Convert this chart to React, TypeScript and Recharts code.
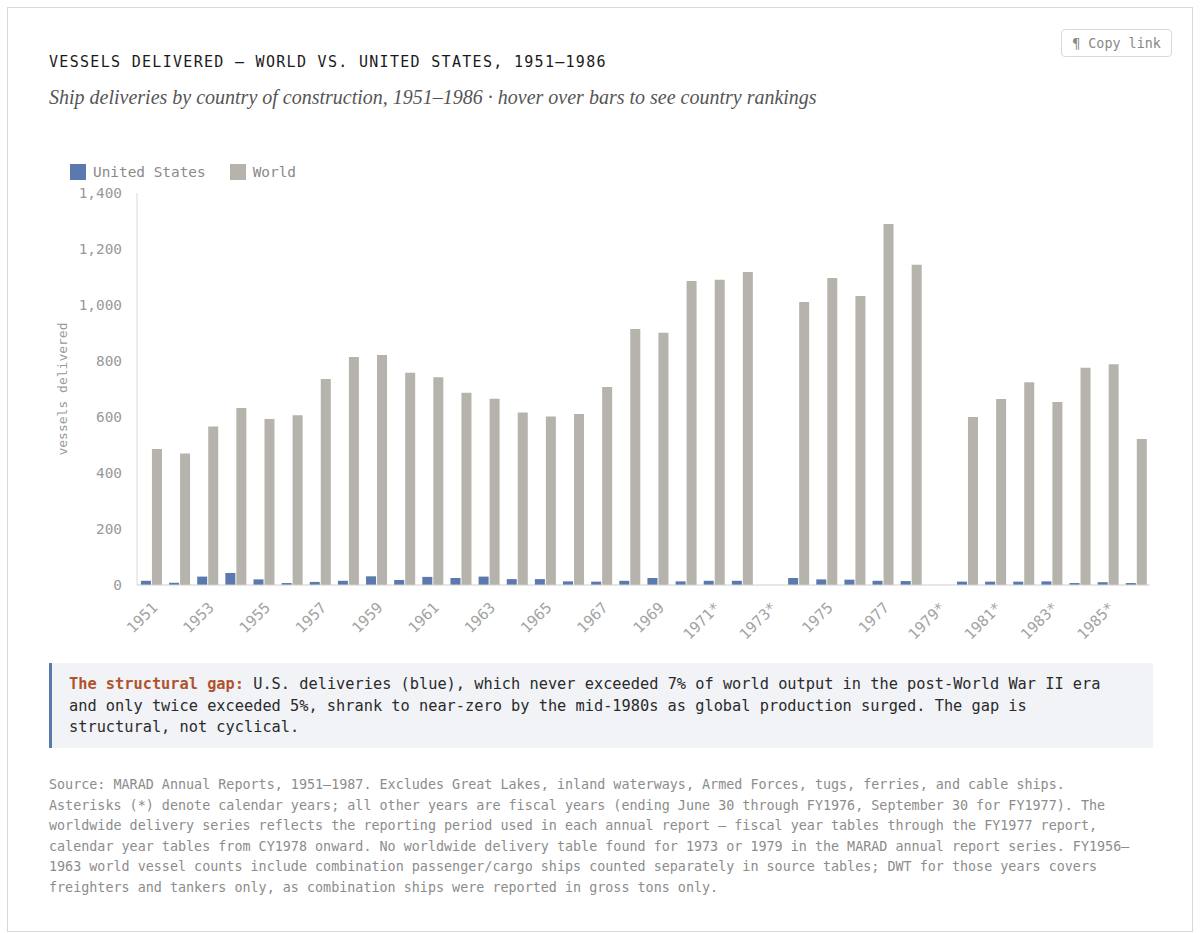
import React from "react";
import { Bar, BarChart, Legend, XAxis, YAxis } from "recharts";

const MONO = '"DejaVu Sans Mono", "Liberation Mono", monospace';
const SERIF = '"Liberation Serif", "DejaVu Serif", serif';

const US_BLUE = "#5b79ad";
const WORLD_GRAY = "#b6b3ac";

// fiscal years unless marked * (calendar years)
const years = [
  "1951", "1952", "1953", "1954", "1955", "1956", "1957", "1958", "1959", "1960",
  "1961", "1962", "1963", "1964", "1965", "1966", "1967", "1968", "1969", "1970",
  "1971*", "1972*", "1973*", "1974", "1975", "1976", "1977", "1978*", "1979*", "1980*",
  "1981*", "1982*", "1983*", "1984*", "1985*", "1986*",
];

const worldVessels = [
  486, 470, 566, 632, 593, 606, 736, 814, 821, 758,
  742, 687, 665, 616, 602, 611, 707, 914, 901, 1086,
  1090, 1118, null, 1011, 1096, 1032, 1289, 1144, null, 600,
  664, 724, 654, 776, 788, 521,
];

const usVessels = [
  15, 8, 30, 43, 20, 7, 11, 15, 31, 18,
  29, 25, 30, 21, 21, 13, 12, 15, 25, 13,
  15, 15, null, 25, 20, 19, 15, 14, null, 12,
  12, 12, 13, 7, 10, 7,
];

const yTicks = [0, 200, 400, 600, 800, 1000, 1200, 1400];

const calloutLines = [
  "U.S. deliveries (blue), which never exceeded 7% of world output in the post-World War II era",
  "and only twice exceeded 5%, shrank to near-zero by the mid-1980s as global production surged. The gap is",
  "structural, not cyclical.",
];

const sourceLines = [
  "Source: MARAD Annual Reports, 1951–1987. Excludes Great Lakes, inland waterways, Armed Forces, tugs, ferries, and cable ships.",
  "Asterisks (*) denote calendar years; all other years are fiscal years (ending June 30 through FY1976, September 30 for FY1977). The",
  "worldwide delivery series reflects the reporting period used in each annual report — fiscal year tables through the FY1977 report,",
  "calendar year tables from CY1978 onward. No worldwide delivery table found for 1973 or 1979 in the MARAD annual report series. FY1956–",
  "1963 world vessel counts include combination passenger/cargo ships counted separately in source tables; DWT for those years covers",
  "freighters and tankers only, as combination ships were reported in gross tons only.",
];

const rows = years.map((year, i) => ({
  year,
  us: usVessels[i],
  world: worldVessels[i],
}));

const fmt = (v: number) => v.toLocaleString("en-US");

function ChartLegend() {
  const items = [
    { label: "United States", color: US_BLUE },
    { label: "World", color: WORLD_GRAY },
  ];
  return (
    <div style={{ height: 35, display: "flex", alignItems: "flex-start", paddingTop: 6, paddingLeft: 21, boxSizing: "border-box" }}>
      {items.map((it) => (
        <div key={it.label} style={{ display: "flex", alignItems: "center", marginRight: 24, height: 16 }}>
          <span style={{ width: 16, height: 16, background: it.color, display: "inline-block", marginRight: 7 }} />
          <span style={{ fontFamily: MONO, fontSize: 14.4, color: "#8a8a8a", lineHeight: "16px" }}>{it.label}</span>
        </div>
      ))}
    </div>
  );
}

export default function App() {
  return (
    <div
      style={{
        position: "absolute",
        left: 7,
        top: 7,
        width: 1186,
        height: 925,
        border: "1px solid #dcd9cc",
        boxSizing: "border-box",
        background: "#fff",
      }}
    >
      <div
        style={{
          position: "absolute",
          left: 41,
          top: 44,
          fontFamily: MONO,
          fontSize: 15,
          lineHeight: "20px",
          letterSpacing: 1.3,
          color: "#1a1a1a",
          whiteSpace: "nowrap",
        }}
      >
        VESSELS DELIVERED — WORLD VS. UNITED STATES, 1951–1986
      </div>
      <div
        style={{
          position: "absolute",
          left: 41,
          top: 76,
          fontFamily: SERIF,
          fontStyle: "italic",
          fontSize: 20,
          lineHeight: "26px",
          color: "#555",
          whiteSpace: "nowrap",
        }}
      >
        Ship deliveries by country of construction, 1951–1986 · hover over bars to see country rankings
      </div>
      <div
        style={{
          position: "absolute",
          left: 1053,
          top: 21,
          width: 111,
          height: 28,
          border: "1px solid #d9d9d9",
          borderRadius: 4,
          boxSizing: "border-box",
          display: "flex",
          alignItems: "center",
          justifyContent: "center",
          fontFamily: MONO,
          fontSize: 13.4,
          color: "#888",
        }}
      >
        ¶ Copy link
      </div>

      <div style={{ position: "absolute", left: 41, top: 142 }}>
        <BarChart
          width={1104}
          height={495}
          data={rows}
          margin={{ top: 8, right: 3, bottom: 0, left: 0 }}
          barCategoryGap="14%"
          barGap={1}
        >
          <Legend verticalAlign="top" align="left" content={() => <ChartLegend />} />
          <YAxis
            width={88}
            domain={[0, 1400]}
            ticks={yTicks}
            tickFormatter={fmt}
            axisLine={{ stroke: "#d9d9d9" }}
            tickLine={false}
            tickMargin={9}
            tick={{ fill: "#999", fontSize: 14.4, fontFamily: MONO }}
            label={{
              value: "vessels delivered",
              angle: -90,
              position: "insideLeft",
              offset: 13,
              style: { textAnchor: "middle", fill: "#999", fontSize: 13, fontFamily: MONO },
            }}
          />
          <XAxis
            dataKey="year"
            interval={1}
            angle={-45}
            textAnchor="end"
            height={60}
            tickLine={false}
            tickMargin={10}
            axisLine={{ stroke: "#cfcfcf" }}
            tick={{ fill: "#a3a3a3", fontSize: 15, fontFamily: MONO }}
          />
          <Bar dataKey="us" name="United States" fill={US_BLUE} isAnimationActive={false} />
          <Bar dataKey="world" name="World" fill={WORLD_GRAY} isAnimationActive={false} />
        </BarChart>
      </div>

      <div
        style={{
          position: "absolute",
          left: 41,
          top: 655,
          width: 1104,
          height: 85,
          background: "#f1f3f7",
          borderLeft: `3px solid ${US_BLUE}`,
          boxSizing: "border-box",
          padding: "11px 0 0 17px",
          fontFamily: MONO,
          fontSize: 15.3,
          lineHeight: "21.5px",
          color: "#2a2a2a",
          whiteSpace: "nowrap",
        }}
      >
        {calloutLines.map((line, i) => (
          <div key={i}>
            {i === 0 && <span style={{ color: "#b0532c", fontWeight: "bold" }}>The structural gap: </span>}
            {line}
          </div>
        ))}
      </div>

      <div
        style={{
          position: "absolute",
          left: 41,
          top: 767,
          fontFamily: MONO,
          fontSize: 13.4,
          lineHeight: "20.6px",
          color: "#8c8c8c",
          whiteSpace: "nowrap",
        }}
      >
        {sourceLines.map((line, i) => (
          <div key={i}>{line}</div>
        ))}
      </div>
    </div>
  );
}
